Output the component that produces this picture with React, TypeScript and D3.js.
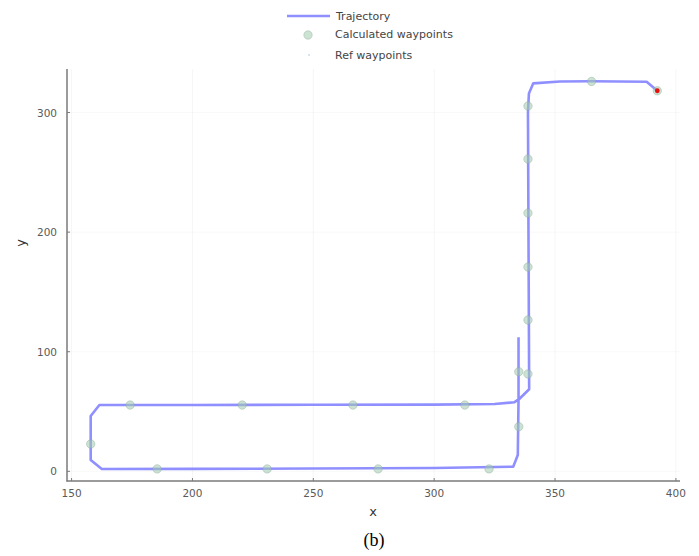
import React from "react";
import * as d3 from "d3";

// Trajectory (x, y) in order
const trajX = [334.9, 334.9, 334.6, 332.7, 300, 250, 200, 162.5, 157.9, 157.9, 161.5, 200, 250, 300, 325, 333.1, 335.2, 339.3, 338.8, 339.2, 341, 352, 365, 387.9, 392.3];
const trajY = [112, 60, 13.6, 3.9, 2.8, 2.3, 2.0, 1.9, 9.4, 46.2, 55.4, 55.5, 55.6, 55.8, 56.3, 57.7, 60.5, 68.6, 300, 316, 324.4, 326, 326.2, 325.8, 318.2];

// Calculated waypoints
const wpX = [185.4, 230.9, 276.8, 322.7, 157.9, 174.2, 220.6, 266.4, 312.7, 335.0, 335.0, 338.8, 338.8, 338.8, 338.8, 338.8, 338.8, 365.1, 392.3];
const wpY = [2.0, 2.0, 2.0, 2.0, 22.8, 55.4, 55.4, 55.4, 55.4, 37.3, 83.3, 81.4, 126.5, 170.8, 215.9, 261.1, 305.4, 326.0, 318.2];

// Ref waypoints (goal)
const refX = [392.3];
const refY = [318.2];

const xTicks = [150, 200, 250, 300, 350, 400];
const yTicks = [0, 100, 200, 300];

const W = 699;
const H = 556;

export default function App() {
  const x = d3.scaleLinear().domain([148.1, 401.7]).range([67, 680]);
  const y = d3.scaleLinear().domain([-8.1, 336.4]).range([481, 69]);
  const pts: [number, number][] = trajX.map((v, i) => [v, trajY[i]]);
  const line = d3
    .line<[number, number]>()
    .x((d) => x(d[0]))
    .y((d) => y(d[1]));
  const font = "'DejaVu Sans', Verdana, sans-serif";
  const axisColor = "#7a7a7a";
  const textColor = "#5a5a5a";
  return (
    <svg
      width={W}
      height={H}
      style={{ position: "absolute", left: 0, top: 0, background: "#fff" }}
    >
      {/* grid */}
      {xTicks.map((t) => (
        <line key={"gx" + t} x1={x(t)} x2={x(t)} y1={69} y2={481} stroke="#000" strokeOpacity={0.05} strokeWidth={0.8} />
      ))}
      {yTicks.map((t) => (
        <line key={"gy" + t} x1={67} x2={680} y1={y(t)} y2={y(t)} stroke="#000" strokeOpacity={0.035} strokeWidth={0.8} />
      ))}
      {/* axes */}
      <line x1={67} x2={67} y1={69} y2={481.5} stroke={axisColor} strokeWidth={1.5} />
      <line x1={66.5} x2={680} y1={481} y2={481} stroke={axisColor} strokeWidth={1.5} />
      {xTicks.map((t) => (
        <g key={"xt" + t}>
          <line x1={x(t)} x2={x(t)} y1={481} y2={478} stroke={axisColor} strokeWidth={1} />
          <text x={x(t)} y={493} textAnchor="middle" dominantBaseline="central" fontSize={10.5} fill={textColor} fontFamily={font}>
            {t}
          </text>
        </g>
      ))}
      {yTicks.map((t) => (
        <g key={"yt" + t}>
          <line x1={67} x2={70} y1={y(t)} y2={y(t)} stroke={axisColor} strokeWidth={1} />
          <text x={57} y={y(t)} textAnchor="end" dominantBaseline="central" fontSize={10.5} fill={textColor} fontFamily={font}>
            {t}
          </text>
        </g>
      ))}
      <text x={373} y={511} textAnchor="middle" dominantBaseline="central" fontSize={13} fill="#333" fontFamily={font}>
        x
      </text>
      <text
        x={20}
        y={243}
        textAnchor="middle"
        dominantBaseline="central"
        fontSize={13}
        fill="#333"
        fontFamily={font}
        transform="rotate(-90 20 243)"
      >
        y
      </text>

      {/* trajectory */}
      <path d={line(pts) || ""} fill="none" stroke="#7b7bff" strokeOpacity={0.85} strokeWidth={2.6} strokeLinejoin="round" />

      {/* waypoints */}
      {wpX.map((v, i) => (
        <circle key={"wp" + i} cx={x(v)} cy={y(wpY[i])} r={4.2} fill="#a3ccae" fillOpacity={0.55} stroke="#8aa898" strokeOpacity={0.5} strokeWidth={0.8} />
      ))}
      {refX.map((v, i) => (
        <circle key={"rf" + i} cx={x(v)} cy={y(refY[i])} r={2.4} fill="#e8100c" />
      ))}

      {/* legend */}
      <line x1={287} x2={330} y1={16} y2={16} stroke="#7b7bff" strokeOpacity={0.85} strokeWidth={2.6} />
      <text x={336} y={16} dominantBaseline="central" fontSize={11} fill="#444" fontFamily={font}>
        Trajectory
      </text>
      <circle cx={308} cy={35} r={4.2} fill="#a3ccae" fillOpacity={0.55} stroke="#8aa898" strokeOpacity={0.5} strokeWidth={0.8} />
      <text x={335} y={34} dominantBaseline="central" fontSize={11} fill="#444" fontFamily={font}>
        Calculated waypoints
      </text>
      <circle cx={309} cy={55} r={0.8} fill="#9fc3e0" />
      <text x={335} y={55} dominantBaseline="central" fontSize={11} fill="#444" fontFamily={font}>
        Ref waypoints
      </text>

      {/* caption */}
      <text x={374} y={540} textAnchor="middle" dominantBaseline="central" fontSize={18} fill="#000" fontFamily="'Liberation Serif', 'Times New Roman', serif">
        (b)
      </text>
    </svg>
  );
}
